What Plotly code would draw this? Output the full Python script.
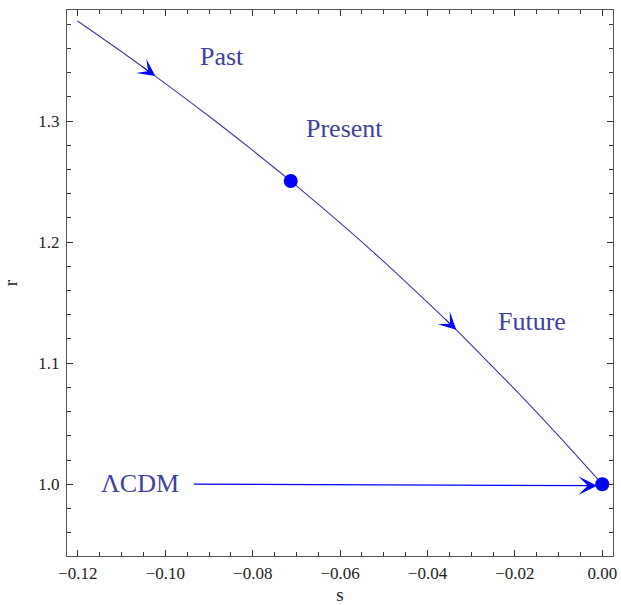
import plotly.graph_objects as go

# ---- data ----
s_curve = [-0.1201, -0.1100, -0.1023, -0.0900, -0.0800, -0.0713, -0.0600, -0.0500,
           -0.0400, -0.0334, -0.0300, -0.0200, -0.0100, 0.0]
r_curve = [1.3826, 1.3572, 1.3371, 1.3039, 1.2757, 1.2504, 1.2159, 1.1839,
           1.1502, 1.1275, 1.1150, 1.0783, 1.0399, 1.0]
arrow_idx = [2, 9]          # curve points where the direction arrows sit

present_s, present_r = [-0.0713], [1.2504]
lcdm_s, lcdm_r = [0.0], [1.0]

lcdm_arrow_start = (-0.0938, 1.0)
lcdm_arrow_end = (-0.0012, 0.9988)

labels = ["Past", "Present", "Future", "\u039bCDM"]
label_s = [-0.0870, -0.0591, -0.0160, -0.1057]
label_r = [1.3530, 1.2935, 1.1340, 1.0010]

x_range = [-0.1225, 0.00245]
y_range = [0.9407, 1.3917]

CURVE = "#3a3a9c"
BLUE = "#0000ff"
TEXT = "#3f3f9f"
FONT = "Liberation Serif"

fig = go.Figure()
fig.add_trace(go.Scatter(x=s_curve, y=r_curve, mode="lines",
                         line=dict(color=CURVE, width=1.1, shape="spline", smoothing=0.8),
                         hoverinfo="skip", showlegend=False))
fig.add_trace(go.Scatter(x=present_s + lcdm_s, y=present_r + lcdm_r, mode="markers",
                         marker=dict(color=BLUE, size=14, line=dict(width=0)),
                         showlegend=False))

ann = []
for i in arrow_idx:
    tx, ty = s_curve[i], r_curve[i]
    px, py = s_curve[i - 1], r_curve[i - 1]
    k = 0.45
    ann.append(dict(x=tx, y=ty, ax=tx - k * (tx - px), ay=ty - k * (ty - py),
                    xref="x", yref="y", axref="x", ayref="y", text="",
                    showarrow=True, arrowhead=3, arrowsize=2.9, arrowwidth=1,
                    arrowcolor=BLUE))
ann.append(dict(x=lcdm_arrow_end[0], y=lcdm_arrow_end[1],
                ax=lcdm_arrow_start[0], ay=lcdm_arrow_start[1],
                xref="x", yref="y", axref="x", ayref="y", text="",
                showarrow=True, arrowhead=3, arrowsize=2.6, arrowwidth=1.2,
                arrowcolor=BLUE))
for t, xs, yr in zip(labels, label_s, label_r):
    ann.append(dict(x=xs, y=yr, xref="x", yref="y", text=t, showarrow=False,
                    font=dict(family=FONT, size=26, color=TEXT),
                    xanchor="center", yanchor="middle"))

axis_common = dict(showgrid=False, zeroline=False, showline=True, linecolor="#555555",
                   linewidth=1, mirror="allticks", ticks="inside", ticklen=6,
                   tickwidth=1, tickcolor="#333333", automargin=False,
                   tickfont=dict(family=FONT, size=17, color="#222222"))

fig.update_xaxes(range=x_range, tick0=0, dtick=0.02, tickformat=".2f",
                 ticklabelstandoff=2,
                 minor=dict(ticks="inside", dtick=0.005, tick0=0, ticklen=4,
                            tickcolor="#333333", tickwidth=1),
                 title=dict(text="s", font=dict(family=FONT, size=19, color="#222222"),
                            standoff=9),
                 **axis_common)
fig.update_yaxes(range=y_range, tick0=1.0, dtick=0.1, tickformat=".1f",
                 ticklabelstandoff=3,
                 minor=dict(ticks="inside", dtick=0.02, tick0=1.0, ticklen=4,
                            tickcolor="#333333", tickwidth=1),
                 title=dict(text="r", font=dict(family=FONT, size=19, color="#222222"),
                            standoff=16),
                 **axis_common)

fig.update_layout(width=621, height=605, margin=dict(l=67, r=8, t=10, b=49),
                  paper_bgcolor="white", plot_bgcolor="white",
                  annotations=ann, showlegend=False)

fig.write_html("out.html")
